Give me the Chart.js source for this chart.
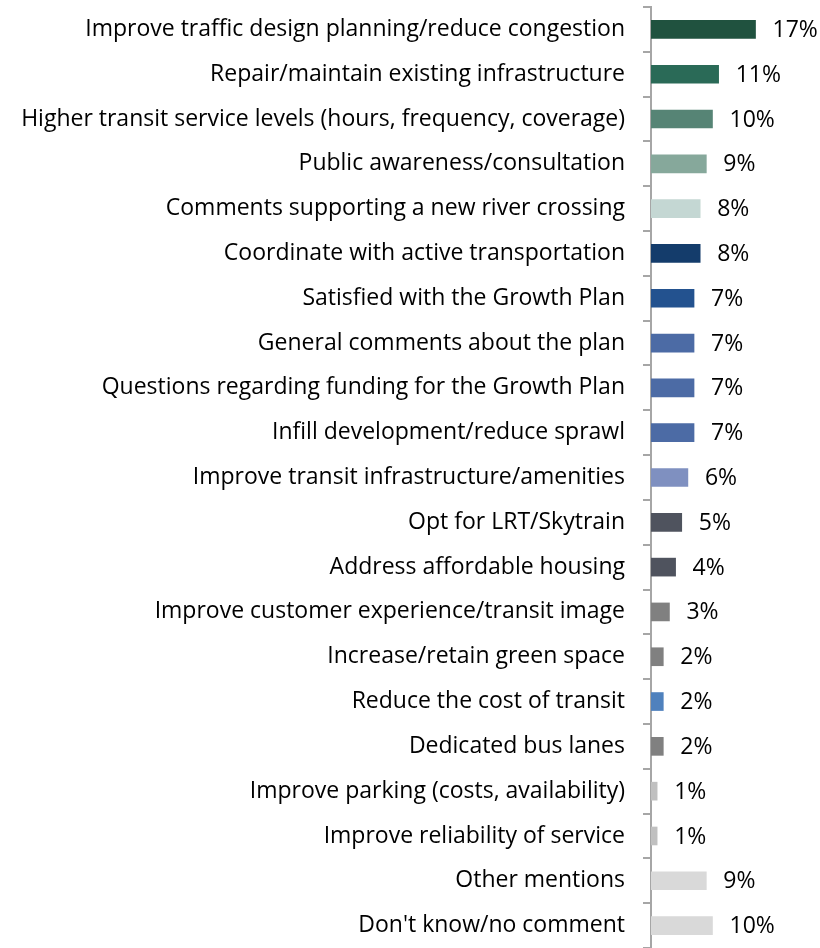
<!DOCTYPE html>
<html>
<head>
<meta charset="utf-8">
<script src="https://cdn.jsdelivr.net/npm/chart.js@4"></script>
<style>
  body { margin: 0; background: #fff; }
  #chart { display: block; }
</style>
</head>
<body>
<canvas id="chart" width="820" height="948"></canvas>
<script>
const categories = [
    'Improve traffic design planning/reduce congestion',
    'Repair/maintain existing infrastructure',
    'Higher transit service levels (hours, frequency, coverage)',
    'Public awareness/consultation',
    'Comments supporting a new river crossing',
    'Coordinate with active transportation',
    'Satisfied with the Growth Plan',
    'General comments about the plan',
    'Questions regarding funding for the Growth Plan',
    'Infill development/reduce sprawl',
    'Improve transit infrastructure/amenities',
    'Opt for LRT/Skytrain',
    'Address affordable housing',
    'Improve customer experience/transit image',
    'Increase/retain green space',
    'Reduce the cost of transit',
    'Dedicated bus lanes',
    'Improve parking (costs, availability)',
    'Improve reliability of service',
    'Other mentions',
    "Don't know/no comment"
];
const percents = [17, 11, 10, 9, 8, 8, 7, 7, 7, 7, 6, 5, 4, 3, 2, 2, 2, 1, 1, 9, 10];
const barColors = [
    '#20523f', '#2a6a57', '#568475', '#86a89b', '#c4d7d3',
    '#143c6b', '#23528f', '#4c6ba5', '#4c6ba5', '#4c6ba5',
    '#7f90c0', '#4f535e', '#4f535e', '#808080', '#808080',
    '#4f81bd', '#808080', '#c0c0c0', '#c0c0c0', '#d9d9d9', '#d9d9d9'
];

const FONT = '"Open Sans", "Liberation Sans", sans-serif';
const FONT_SIZE = 23;

// 数值标签
const valueLabels = {
    id: 'valueLabels',
    afterDatasetsDraw(chart) {
        const ctx = chart.ctx;
        const meta = chart.getDatasetMeta(0);
        ctx.save();
        ctx.font = FONT_SIZE + 'px ' + FONT;
        ctx.fillStyle = '#000';
        ctx.textAlign = 'left';
        ctx.textBaseline = 'middle';
        meta.data.forEach((bar, i) => {
            ctx.fillText(percents[i] + '%', bar.x + 17, bar.y + 1);
        });
        ctx.restore();
    }
};

new Chart(document.getElementById('chart'), {
    type: 'bar',
    data: {
        labels: categories,
        datasets: [{
            data: percents,
            backgroundColor: barColors,
            barThickness: 18
        }]
    },
    options: {
        indexAxis: 'y',
        responsive: false,
        animation: false,
        layout: { padding: { top: 7, right: 3, bottom: 0, left: 0 } },
        plugins: {
            legend: { display: false },
            tooltip: { enabled: false }
        },
        scales: {
            x: { display: false, min: 0, max: 27 },
            y: {
                afterFit(scale) {
                    scale.width = 651;
                    scale.paddingTop = 0;
                    scale.paddingBottom = 0;
                },
                border: { color: '#a6a6a6', width: 2 },
                grid: { drawOnChartArea: false, tickLength: 8, color: '#a6a6a6', lineWidth: 2 },
                ticks: { color: '#000', padding: 18, autoSkip: false, font: { family: FONT, size: FONT_SIZE } }
            }
        }
    },
    plugins: [valueLabels]
});
</script>
</body>
</html>
